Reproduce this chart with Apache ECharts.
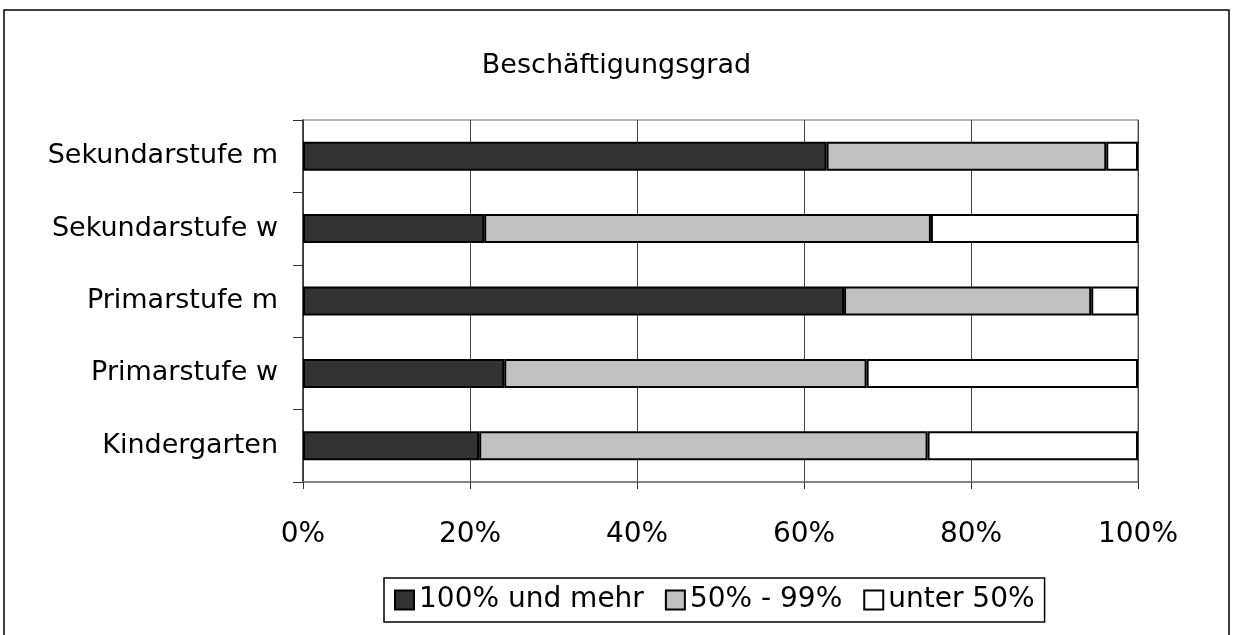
<!DOCTYPE html>
<html>
<head>
<meta charset="utf-8">
<script src="https://cdn.jsdelivr.net/npm/echarts@6/dist/echarts.min.js"></script>
<style>
  html, body { margin: 0; padding: 0; background: #fff; }
  #chart { width: 1233px; height: 635px; }
</style>
</head>
<body>
<div id="chart"></div>
<script>
// Kategorien von unten nach oben
const categories = ['Kindergarten', 'Primarstufe w', 'Primarstufe m', 'Sekundarstufe w', 'Sekundarstufe m']
const voll = [21.1, 24.1, 64.8, 21.7, 62.7]
const teil = [53.7, 43.4, 29.6, 53.5, 33.5]
const unter = [25.2, 32.5, 5.6, 24.8, 3.8]
const seriesNames = ['100% und mehr', '50% - 99%', 'unter 50%']
const seriesColors = ['#333333', '#c0c0c0', '#ffffff']

const font = 'DejaVu Sans'

const myChart = echarts.init(document.getElementById('chart'))

const makeSeries = (name, data, color) => {
  return {
    name: name,
    type: 'bar',
    stack: 'total',
    data: data,
    barWidth: 29,
    itemStyle: {
      color: color,
      borderColor: '#000',
      borderWidth: 2
    }
  }
}

const option = {
  animation: false,
  backgroundColor: '#fff',
  textStyle: { fontFamily: font },
  title: {
    text: 'Beschäftigungsgrad',
    left: 'center',
    top: 47,
    textStyle: { fontSize: 27, fontWeight: 'normal', color: '#000', fontFamily: font }
  },
  // äusserer Rahmen
  graphic: [
    {
      type: 'rect',
      shape: { x: 4, y: 10, width: 1225, height: 700 },
      style: { fill: 'none', stroke: '#000', lineWidth: 1.5 },
      silent: true
    }
  ],
  legend: {
    left: 384,
    top: 578,
    orient: 'horizontal',
    icon: 'rect',
    itemWidth: 19,
    itemHeight: 19,
    itemGap: 21,
    padding: [8, 10, 8, 10],
    borderColor: '#000',
    borderWidth: 1.5,
    textStyle: { fontSize: 28, color: '#000', fontFamily: font, padding: [0, 0, 0, 0] },
    data: seriesNames.map((n) => ({ name: n, itemStyle: { borderColor: '#000', borderWidth: 2 } }))
  },
  grid: {
    left: 303,
    right: 95,
    top: 120,
    bottom: 153,
    show: true,
    borderColor: '#999',
    borderWidth: 1.5
  },
  xAxis: {
    type: 'value',
    min: 0,
    max: 100,
    interval: 20,
    axisLabel: {
      formatter: '{value}%',
      fontSize: 28,
      color: '#000',
      margin: 39,
      fontFamily: font
    },
    axisLine: { show: true, lineStyle: { color: '#777', width: 1.5 } },
    axisTick: { show: true, length: 7, lineStyle: { color: '#333' } },
    splitLine: { show: true, lineStyle: { color: '#444', width: 1 } }
  },
  yAxis: {
    type: 'category',
    data: categories,
    axisLabel: {
      fontSize: 27,
      color: '#000',
      margin: 25,
      fontFamily: font
    },
    axisLine: { show: true, lineStyle: { color: '#333', width: 1.5 } },
    axisTick: { show: true, length: 10, lineStyle: { color: '#333' } },
    splitLine: { show: false }
  },
  series: [
    makeSeries(seriesNames[0], voll, seriesColors[0]),
    makeSeries(seriesNames[1], teil, seriesColors[1]),
    makeSeries(seriesNames[2], unter, seriesColors[2])
  ]
}

myChart.setOption(option)
</script>
</body>
</html>
